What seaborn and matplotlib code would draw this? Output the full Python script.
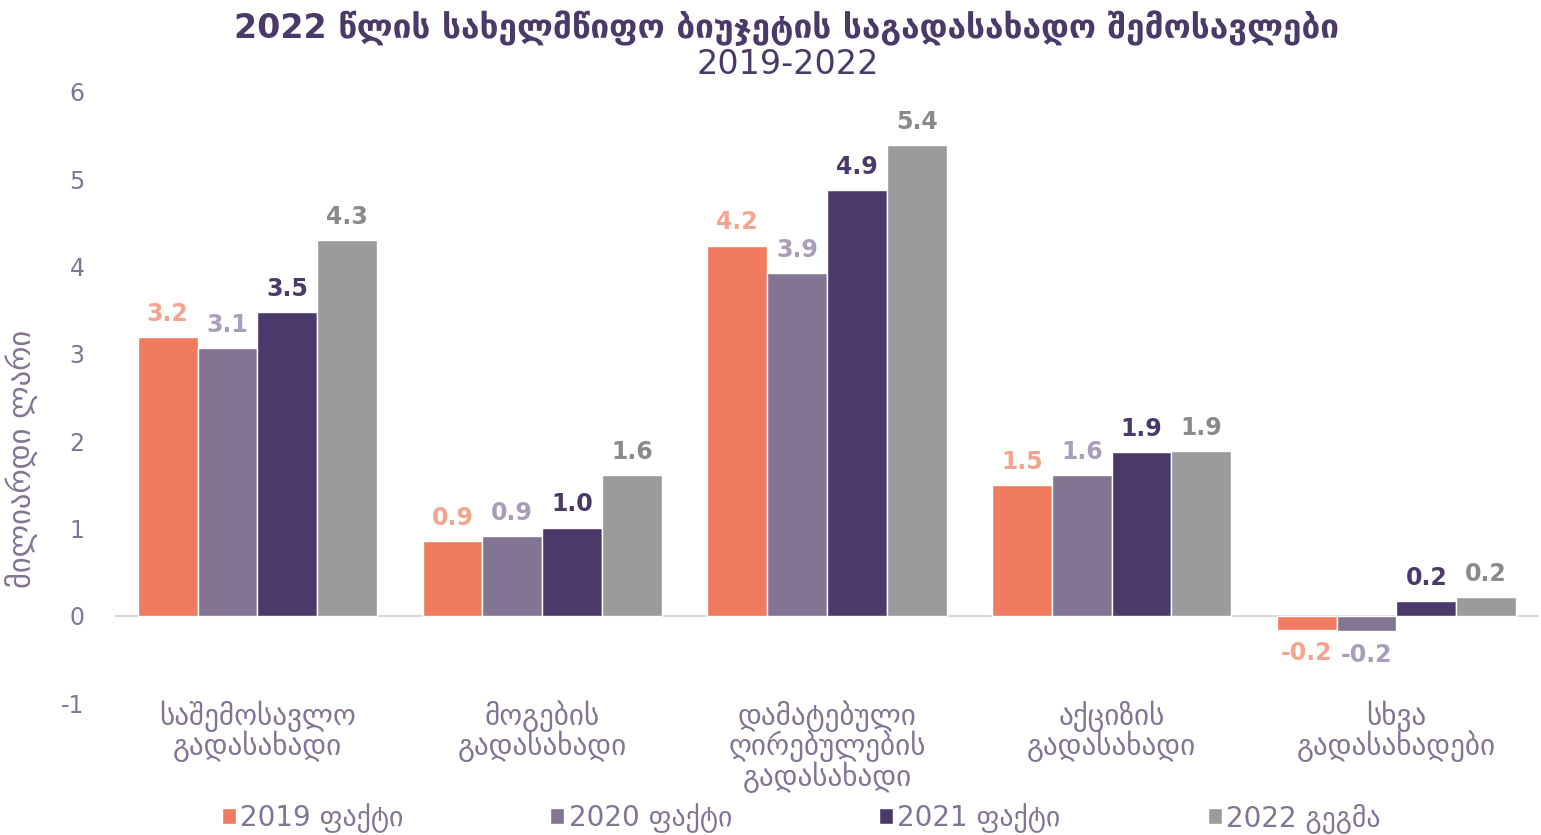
import matplotlib
matplotlib.use("Agg")
import matplotlib.pyplot as plt
import pandas as pd
import seaborn as sns

# Data (billion GEL)
categories = ["საშემოსავლო\nგადასახადი", "მოგების\nგადასახადი",
              "დამატებული\nღირებულების\nგადასახადი", "აქციზის\nგადასახადი",
              "სხვა\nგადასახადები"]
series = ["2019 ფაქტი", "2020 ფაქტი", "2021 ფაქტი", "2022 გეგმა"]
fact_2019 = [3.19, 0.86, 4.24, 1.50, -0.16]
fact_2020 = [3.07, 0.91, 3.92, 1.61, -0.18]
fact_2021 = [3.48, 1.01, 4.88, 1.87, 0.17]
plan_2022 = [4.30, 1.61, 5.39, 1.89, 0.21]

bar_colors = ["#F07B5F", "#847494", "#4B3A69", "#9B9B9B"]
label_colors = ["#F5A58F", "#A99DBA", "#4B3A69", "#8A8A8A"]
text_color = "#847494"
title_color = "#4B3A69"

df = pd.DataFrame({
    "category": categories * 4,
    "series": [s for s in series for _ in categories],
    "value": fact_2019 + fact_2020 + fact_2021 + plan_2022,
})

sns.set_theme(style="white")
plt.rcParams["font.family"] = ["DejaVu Sans"]
plt.rcParams["axes.unicode_minus"] = False

fig = plt.figure(figsize=(15.41, 8.35), dpi=100)
ax = fig.add_axes([0.0746, 0.158, 0.924, 0.732])

sns.barplot(data=df, x="category", y="value", hue="series", palette=bar_colors,
            width=0.84, saturation=1, ax=ax, legend=True)

# value labels above / below each bar
for cont, col in zip(ax.containers, label_colors):
    ax.bar_label(cont, fmt="%.1f", padding=8, color=col, fontsize=17,
                 fontweight="bold")

ax.set_ylim(-1, 6)
ax.set_xlim(-0.5, 4.5)
ax.axhline(0, color="#D9D9D9", lw=1.5, zorder=0)
for s in ax.spines.values():
    s.set_visible(False)
ax.set_yticks(range(-1, 7))
ax.tick_params(axis="y", length=0, pad=22, labelsize=17, labelcolor=text_color)
ax.tick_params(axis="x", length=0, pad=-2, labelcolor=text_color)
for t in ax.get_xticklabels():
    t.set_fontsize(21)
    t.set_linespacing(0.95)
ax.set_xlabel("")
ax.set_ylabel("მილიარდი ლარი", fontsize=22, color=text_color)
ax.yaxis.set_label_coords(-0.054, 0.40)

leg = ax.legend(loc="center", bbox_to_anchor=(801 / 1541, 1 - 818 / 835),
                bbox_transform=fig.transFigure, ncol=4, frameon=False,
                fontsize=20, handlelength=0.5, handleheight=0.5,
                handletextpad=0.15, columnspacing=5.3)
for t in leg.get_texts():
    t.set_color(text_color)

fig.text(787 / 1541, 1 - 28 / 835, "2022 წლის სახელმწიფო ბიუჯეტის საგადასახადო შემოსავლები",
         ha="center", va="center", fontsize=24, fontweight="bold", color=title_color)
fig.text(788 / 1541, 1 - 65 / 835, "2019-2022", ha="center", va="center",
         fontsize=24, color=title_color)

fig.savefig("out.png", dpi=100)
